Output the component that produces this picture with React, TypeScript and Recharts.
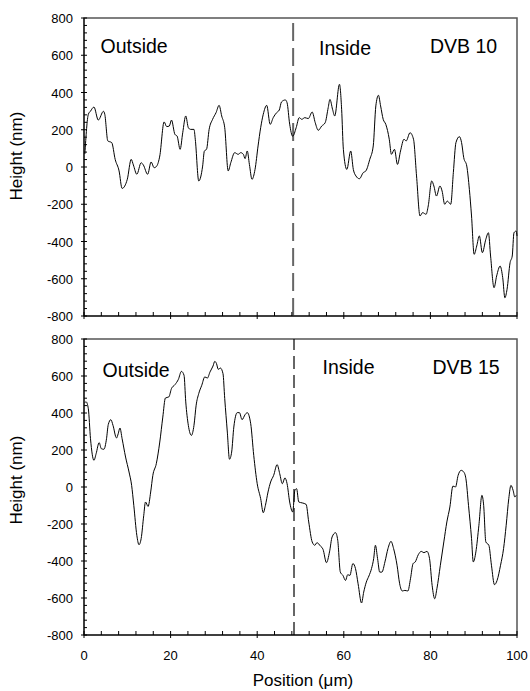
import React from "react";
import { LineChart, Line, XAxis, YAxis, ReferenceLine, ReferenceArea } from "recharts";

// DVB 10 profile
const topPos = [
  0.2, 1.0, 1.5, 2.3, 3.3, 4.5, 4.8, 5.5, 6.4, 7.2, 8.1, 8.8, 10, 10.9, 11.4, 12.2, 13.2, 13.7, 14.7, 15.5,
  16.2, 16.8, 17.5, 18.5, 19.1, 19.7, 20.2, 21, 21.5, 22.2, 22.8, 23.5, 24.1, 24.6, 25.4, 25.7, 26.5, 27.4,
  27.8, 28.3, 28.9, 29.7, 30.5, 31.2, 31.8, 32.5, 33.3, 33.9, 34.8, 35.6, 36.2, 36.8, 37.2, 37.7, 38.2, 38.8,
  39.5, 40.2, 40.8, 41.4, 42.2, 43, 43.7, 44.5, 45.1, 45.6, 46.5, 46.9, 47.5, 48.2, 49, 49.7, 50.3, 51, 51.8,
  52.7, 53.4, 54.1, 54.9, 55.7, 56.4, 56.8, 57.4, 57.9, 59, 59.5, 59.9, 60.7, 61.6, 62.2, 62.8, 63.6, 64.5,
  65.1, 66, 66.8, 67.4, 68, 68.5, 69.1, 69.7, 70.5, 71, 71.7, 72.4, 73.1, 73.9, 74.4, 75.3, 76.1, 76.8, 77.6,
  78.2, 79, 79.5, 80.3, 80.8, 81.4, 82.2, 82.7, 83.3, 83.9, 84.7, 85.3, 85.9, 86.7, 87.2, 87.7, 88.4, 89,
  89.5, 90.1, 90.7, 91.3, 92, 92.8, 93.4, 93.9, 94.7, 95.3, 96.1, 96.7, 97.2, 97.7, 98.4, 98.9, 99.3, 99.8, 100,
];
const topHeight = [
  70, 283, 300, 322, 252, 299, 283, 140, 131, 41, -21, -115, -66, 41, 11, -39, 23, 11, -39, 27,
  -4, 5, 59, 242, 217, 220, 252, 175, 166, 95, 184, 274, 211, 202, 202, 149, -75, 5,
  86, 95, 202, 256, 292, 331, 274, 211, -21, 23, 77, 68, 77, 68, 45, 86, 14, -66,
  -13, 113, 211, 283, 331, 229, 265, 292, 306, 349, 360, 345, 230, 165, 211, 265, 256, 265, 260,
  295, 238, 197, 220, 238, 319, 363, 310, 274, 444, 310, 95, -13, 86, -13, -48, -63, -30,
  -21, 41, 113, 328, 385, 328, 256, 229, 149, 68, 95, 14, 86, 149, 140, 184, 149, -48, -263,
  -245, -254, -209, -75, -102, -156, -102, -129, -200, -183, -200, -30, 131, 163, 131, 50, 5, -120,
  -263, -469, -424, -370, -460, -388, -353, -478, -648, -585, -532, -594, -702, -657, -514, -478, -353, -344, -370,
];

// DVB 15 profile
const bottomPos = [
  0.15, 0.5, 1, 1.5, 2.3, 2.8, 3.5, 4, 4.6, 5.2, 5.6, 6.2, 6.7, 7.5, 7.9, 8.3, 8.8, 9.6, 10.4, 11, 11.5,
  12.2, 12.7, 13.2, 13.8, 14.2, 14.8, 15.4, 15.9, 16.7, 17.5, 18.2, 18.8, 19.6, 20.2, 21, 21.8, 22.5, 23.1,
  23.5, 24.1, 24.8, 25.4, 25.9, 26.5, 27.2, 27.9, 28.5, 29.1, 29.8, 30.2, 30.6, 31, 31.5, 32.1, 32.5, 33.1,
  33.6, 34.1, 34.6, 35.4, 35.9, 36.5, 37.2, 37.7, 38.5, 39.2, 40, 40.8, 41.4, 41.9, 42.5, 43.1, 43.8, 44.6,
  45.2, 45.8, 46.4, 46.9, 47.5, 48.2, 48.7, 49.1, 49.6, 50.4, 51.3, 51.9, 52.7, 53.3, 53.8, 54.6, 55.2, 56,
  56.7, 57.3, 58.1, 58.6, 59.2, 59.8, 60.4, 60.9, 61.4, 62.1, 62.7, 63.3, 64.1, 64.6, 65.2, 65.8, 66.4, 66.9,
  67.3, 67.8, 68.3, 68.8, 69.5, 70.2, 70.9, 71.5, 72.3, 72.9, 73.5, 74.1, 74.8, 75.4, 76, 76.5, 77.2, 77.9,
  78.5, 79.2, 79.8, 80.4, 81, 81.5, 82.3, 83.1, 83.8, 84.5, 85.2, 85.8, 86.4, 87.1, 87.7, 88.2, 88.8, 89.5,
  89.9, 90.5, 91.2, 91.9, 92.3, 92.8, 93.5, 94.1, 94.8, 95.4, 96.2, 96.9, 97.5, 98.1, 98.6, 99.1, 99.5, 99.8,
];
const bottomHeight = [
  456, 460, 423, 261, 144, 180, 240, 207, 204, 261, 337, 364, 333, 265, 288, 319, 261, 162, 81, 9, -99,
  -261, -312, -279, -153, -81, -105, -27, 63, 126, 243, 378, 481, 487, 532, 553, 582, 625, 604,
  460, 333, 279, 333, 442, 505, 550, 595, 589, 622, 654, 679, 667, 636, 643, 613, 478, 297,
  150, 189, 324, 402, 402, 364, 391, 402, 342, 171, 18, -63, -139, -99, -27, 27, 63, 121,
  72, 18, 49, 18, -81, -135, -18, -9, -81, -86, -94, -189, -297, -315, -301, -319, -337, -409,
  -351, -270, -247, -288, -460, -478, -505, -474, -478, -414, -441, -523, -627, -568, -514, -481, -441, -387,
  -315, -387, -460, -460, -405, -333, -294, -333, -423, -523, -562, -559, -562, -496, -414, -405, -366, -348,
  -355, -348, -387, -532, -604, -550, -423, -297, -189, -108, 5, 0, 63, 90, 81, 45, -99, -279,
  -405, -351, -207, -45, -99, -297, -315, -423, -528, -505, -423, -333, -207, -63, 9, -18, -54, -45,
];

const xTicks = [0, 4, 8, 12, 16, 20, 24, 28, 32, 36, 40, 44, 48, 52, 56, 60, 64, 68, 72, 76, 80, 84, 88, 92, 96, 100];
const yTicks = [
  -800, -760, -720, -680, -640, -600, -560, -520, -480, -440, -400, -360, -320, -280, -240, -200, -160, -120,
  -80, -40, 0, 40, 80, 120, 160, 200, 240, 280, 320, 360, 400, 440, 480, 520, 560, 600, 640, 680, 720, 760, 800,
];

const topData = topPos.map((p, i) => ({ pos: p, h: topHeight[i] }));
const bottomData = bottomPos.map((p, i) => ({ pos: p, h: bottomHeight[i] }));

const FONT = "'Liberation Sans', Arial, sans-serif";

function XTick(props: any) {
  const { x, y, payload, showLabel } = props;
  const major = payload.value % 20 === 0;
  return (
    <g>
      <line x1={x} x2={x} y1={major ? y + 3 : y} y2={y - 4} stroke="#000" />
      {showLabel && major && (
        <text x={x} y={y + 25} textAnchor="middle" fontSize={13} fontFamily={FONT} fill="#000">
          {payload.value}
        </text>
      )}
    </g>
  );
}

function YTick(props: any) {
  const { x, y, payload } = props;
  const major = payload.value % 200 === 0;
  return (
    <g>
      <line x1={major ? x - 3 : x} x2={x + 3} y1={y} y2={y} stroke="#000" />
      {major && (
        <text x={x - 11} y={y + 5} textAnchor="end" fontSize={13} fontFamily={FONT} fill="#000">
          {payload.value}
        </text>
      )}
    </g>
  );
}

function Panel({ data, height, top, xHeight, showLabel, split, dash, dashColor, dashWidth }: any) {
  return (
    <div style={{ position: "absolute", left: 0, top }}>
      <LineChart width={530} height={height} data={data} margin={{ top: 18, right: 13, left: 0, bottom: 0 }}>
        <ReferenceArea x1={0} x2={100} y1={-800} y2={800} fill="none" stroke="#555" strokeWidth={1.5} />
        <XAxis
          dataKey="pos"
          type="number"
          domain={[0, 100]}
          ticks={xTicks}
          interval={0}
          tickSize={0}
          tickMargin={0}
          height={xHeight}
          axisLine={{ stroke: "#000" }}
          tick={<XTick showLabel={showLabel} />}
        />
        <YAxis
          type="number"
          domain={[-800, 800]}
          ticks={yTicks}
          interval={0}
          tickSize={0}
          tickMargin={0}
          width={84}
          axisLine={{ stroke: "#000" }}
          tick={<YTick />}
        />
        <ReferenceLine x={split} stroke={dashColor} strokeWidth={dashWidth} strokeDasharray={dash} />
        <Line
          type="monotone"
          dataKey="h"
          stroke="#000"
          strokeWidth={1}
          dot={false}
          isAnimationActive={false}
        />
      </LineChart>
    </div>
  );
}

export default function App() {
  return (
    <div style={{ position: "absolute", left: 0, top: 0, width: 530, height: 691, background: "#fff" }}>
      <Panel data={topData} height={330} top={0} xHeight={14} showLabel={false} split={48.3} dash="18 7" dashColor="#666" dashWidth={2} />
      <Panel data={bottomData} height={370} top={321} xHeight={56} showLabel={true} split={48.5} dash="13 6" dashColor="#000" dashWidth={1.2} />
      <svg width={530} height={691} style={{ position: "absolute", left: 0, top: 0, pointerEvents: "none" }}>
        <g fontFamily={FONT} fill="#000">
          <text x={100.5} y={52.5} fontSize={19.5}>Outside</text>
          <text x={319} y={55} fontSize={19.5}>Inside</text>
          <text x={430} y={52.5} fontSize={19.5}>DVB 10</text>
          <text x={102.5} y={376.5} fontSize={19.5}>Outside</text>
          <text x={322.5} y={373.5} fontSize={19.5}>Inside</text>
          <text x={432.5} y={373.5} fontSize={19.5}>DVB 15</text>
          <text transform="translate(22,156) rotate(-90)" textAnchor="middle" fontSize={17}>Height (nm)</text>
          <text transform="translate(22,480) rotate(-90)" textAnchor="middle" fontSize={17}>Height (nm)</text>
          <text x={303} y={686} textAnchor="middle" fontSize={17}>Position (μm)</text>
        </g>
      </svg>
    </div>
  );
}
